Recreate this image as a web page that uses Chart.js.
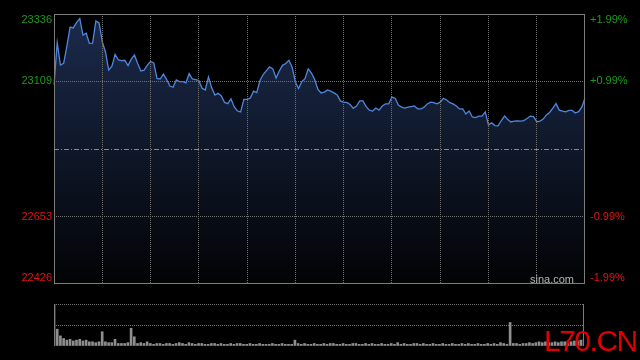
<!DOCTYPE html>
<html>
<head>
<meta charset="utf-8">
<script src="https://cdn.jsdelivr.net/npm/chart.js@4.4.1/dist/chart.umd.min.js"></script>
<style>
    body { margin: 0; background: #000; }
    #wrap { position: relative; width: 640px; height: 360px; overflow: hidden; }
    #priceChart { position: absolute; left: 0; top: 0; }
    #volChart { position: absolute; left: 0; top: 300px; }
</style>
</head>
<body>
<div id="wrap">
    <canvas id="priceChart" width="640" height="300"></canvas>
    <canvas id="volChart" width="640" height="60"></canvas>
</div>
<script>
// Index level every 2 minutes, 09:30-12:00 and 13:00-16:00
const prices = [
    23097, 23239, 23164, 23170, 23228, 23292, 23289, 23307, 23321, 23265, 23271, 23237, 23238, 23312, 23306,
    23243, 23208, 23147, 23160, 23200, 23181, 23179, 23180, 23162, 23184, 23198, 23169, 23144, 23147, 23164,
    23176, 23171, 23119, 23117, 23134, 23115, 23093, 23089, 23114, 23108, 23108, 23104, 23135, 23117, 23115,
    23112, 23086, 23080, 23124, 23087, 23063, 23069, 23060, 23038, 23034, 23050, 23023, 23009, 23006, 23048,
    23048, 23053, 23076, 23071, 23112, 23132, 23145, 23158, 23151, 23120, 23144, 23163, 23169, 23180, 23157,
    23107, 23085, 23108, 23118, 23151, 23137, 23115, 23082, 23070, 23073, 23080, 23076, 23070, 23063, 23043,
    23038, 23038, 23031, 23018, 23026, 23043, 23043, 23024, 23012, 23009, 23019, 23012, 23026, 23033, 23033,
    23056, 23052, 23029, 23022, 23019, 23022, 23024, 23026, 23016, 23016, 23022, 23033, 23039, 23037, 23033,
    23039, 23052, 23046, 23037, 23033, 23026, 23016, 23016, 22999, 23009, 22989, 22987, 22992, 22992, 23006,
    22962, 22969, 22960, 22959, 22977, 22992, 22980, 22972, 22975, 22976, 22975, 22977, 22984, 22992, 22990,
    22973, 22975, 22982, 22996, 23004, 23019, 23034, 23012, 23009, 23006, 23011, 23011, 23002, 23007, 23022,
    23052
];

// Turnover per 2 minutes (relative units)
const volumes = [
    50, 20, 12, 9, 7, 8, 6, 7, 8, 6, 7, 5, 5, 4, 5,
    17, 5, 4, 4, 8, 3, 3, 3, 4, 21, 11, 3, 4, 3, 5,
    3, 2, 3, 3, 2, 3, 3, 2, 3, 4, 3, 2, 4, 3, 2,
    3, 3, 2, 2, 3, 3, 2, 3, 2, 2, 3, 2, 3, 3, 2,
    2, 3, 2, 2, 3, 2, 2, 2, 3, 2, 2, 3, 2, 2, 2,
    7, 3, 2, 3, 2, 2, 3, 2, 2, 3, 2, 3, 3, 2, 2,
    3, 2, 2, 3, 3, 2, 2, 3, 2, 3, 2, 2, 3, 2, 2,
    3, 2, 4, 2, 3, 2, 2, 3, 3, 2, 3, 2, 2, 3, 2,
    2, 3, 2, 2, 3, 2, 2, 3, 2, 3, 2, 2, 3, 2, 2,
    3, 2, 3, 2, 4, 3, 2, 28, 3, 3, 2, 3, 3, 4, 3,
    4, 5, 4, 5, 4, 4, 5, 4, 5, 5, 6, 5, 6, 6, 7,
    8
];

const prevClose = 22881;
const priceTicks = [22426, 22653, 22881, 23109, 23336];
const leftLabels = ['23336', '23109', '22653', '22426'];
const leftValues = [23336, 23109, 22653, 22426];
const rightLabels = ['+1.99%', '+0.99%', '-0.99%', '-1.99%'];

const upColor = '#1c9a1c';
const downColor = '#e01515';
const gridColor = '#727272';
const frameColor = '#7c7c7c';

// time labels for the category axis
const times = [];
function pushTimes(startMin, endMin) {
    for (let m = startMin; m <= endMin; m += 2) {
        const h = Math.floor(m / 60);
        const mm = String(m % 60).padStart(2, '0');
        times.push(h + ':' + mm);
    }
}
pushTimes(9 * 60 + 30, 12 * 60);
pushTimes(13 * 60 + 2, 16 * 60);

const priceOverlay = {
    id: 'priceOverlay',
    afterDraw(chart) {
        const c = chart.ctx;
        const area = chart.chartArea;
        const y = chart.scales.y;
        c.save();
        c.strokeStyle = frameColor;
        c.lineWidth = 1;
        c.strokeRect(area.left + 0.5, area.top + 0.5, area.right - area.left - 1, area.bottom - area.top - 1);

        c.font = '11px "Liberation Sans", Arial, sans-serif';
        c.textBaseline = 'middle';
        leftValues.forEach((v, i) => {
            let py = y.getPixelForValue(v);
            py = Math.min(Math.max(py, area.top + 6), area.bottom - 6);
            c.fillStyle = v > prevClose ? upColor : downColor;
            c.textAlign = 'right';
            c.fillText(leftLabels[i], area.left - 2, py);
            c.textAlign = 'left';
            c.fillText(rightLabels[i], area.right + 5, py);
        });

        c.fillStyle = '#b4b4b4';
        c.textAlign = 'right';
        c.textBaseline = 'alphabetic';
        c.fillText('sina.com', area.right - 11, area.bottom - 1);
        c.restore();
    }
};

new Chart(document.getElementById('priceChart'), {
    type: 'line',
    data: {
        labels: times,
        datasets: [{
            data: prices,
            borderColor: '#4f87de',
            borderWidth: 1.3,
            pointRadius: 0,
            tension: 0,
            fill: 'start',
            backgroundColor: function (context) {
                const area = context.chart.chartArea;
                if (!area) {
                    return 'transparent';
                }
                const g = context.chart.ctx.createLinearGradient(0, area.top, 0, area.bottom);
                g.addColorStop(0, '#1c2b4c');
                g.addColorStop(0.5, '#0f1729');
                g.addColorStop(1, '#020304');
                return g;
            }
        }]
    },
    options: {
        responsive: false,
        animation: false,
        layout: { padding: { left: 54, right: 55, top: 14, bottom: 16 } },
        plugins: { legend: { display: false }, tooltip: { enabled: false } },
        scales: {
            x: {
                offset: false,
                ticks: { display: false },
                border: { display: false, dash: [1, 1] },
                grid: {
                    z: 1,
                    drawTicks: false,
                    color: function (context) {
                        const i = context.index;
                        return (i % 15 === 0 && i > 0 && i < times.length - 1) ? gridColor : 'transparent';
                    }
                }
            },
            y: {
                min: 22426,
                max: 23336,
                afterBuildTicks: function (scale) {
                    scale.ticks = priceTicks.map(v => ({ value: v }));
                },
                ticks: { display: false },
                border: {
                    display: false,
                    dash: function (context) {
                        return context.tick && context.tick.value === prevClose ? [5, 2, 1, 2] : [1, 1];
                    }
                },
                grid: {
                    z: 1,
                    drawTicks: false,
                    color: function (context) {
                        const v = context.tick ? context.tick.value : null;
                        if (v === prevClose) {
                            return '#8a8a8a';
                        }
                        return (v === 23109 || v === 22653) ? gridColor : 'transparent';
                    }
                }
            }
        }
    },
    plugins: [priceOverlay]
});

const volOverlay = {
    id: 'volOverlay',
    afterDraw(chart) {
        const c = chart.ctx;
        const area = chart.chartArea;
        c.save();
        c.strokeStyle = frameColor;
        c.lineWidth = 1;
        c.beginPath();
        c.moveTo(area.left + 0.5, area.top);
        c.lineTo(area.left + 0.5, area.bottom);
        c.moveTo(area.right - 0.5, area.top);
        c.lineTo(area.right - 0.5, area.bottom);
        c.stroke();

        c.fillStyle = '#e00000';
        c.font = '30px "Liberation Sans", Arial, sans-serif';
        c.textAlign = 'left';
        c.textBaseline = 'alphabetic';
        if ('letterSpacing' in c) {
            c.letterSpacing = '-1.5px';
        }
        c.fillText('L70.CN', 544, 51);
        c.restore();
    }
};

new Chart(document.getElementById('volChart'), {
    type: 'bar',
    data: {
        labels: times,
        datasets: [{
            data: volumes,
            backgroundColor: '#8e8e8e',
            barThickness: 2,
            borderWidth: 0
        }]
    },
    options: {
        responsive: false,
        animation: false,
        layout: { padding: { left: 54, right: 56, top: 4, bottom: 6 } },
        plugins: { legend: { display: false }, tooltip: { enabled: false } },
        scales: {
            x: {
                offset: false,
                ticks: { display: false },
                border: { display: false },
                grid: { display: false }
            },
            y: {
                min: 0,
                max: 50,
                afterBuildTicks: function (scale) {
                    scale.ticks = [0, 25, 50].map(v => ({ value: v }));
                },
                ticks: { display: false },
                border: { display: false, dash: [1, 1] },
                grid: {
                    drawTicks: false,
                    color: function (context) {
                        return context.tick && context.tick.value > 0 ? gridColor : 'transparent';
                    }
                }
            }
        }
    },
    plugins: [volOverlay]
});
</script>
</body>
</html>
